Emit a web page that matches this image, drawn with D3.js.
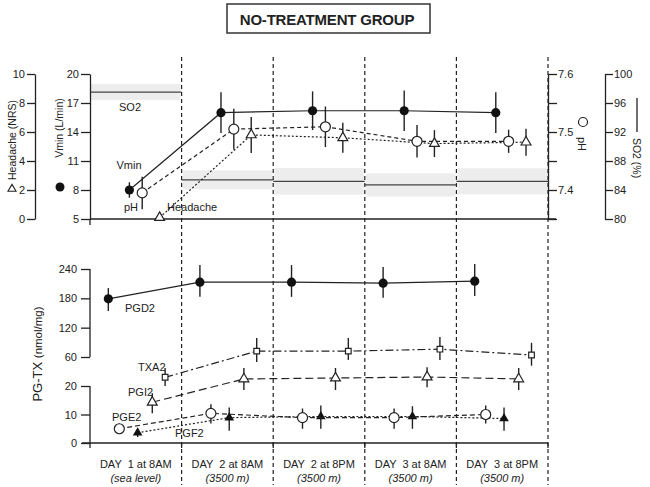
<!DOCTYPE html>
<html>
<head>
<meta charset="utf-8">
<script src="https://cdn.jsdelivr.net/npm/d3@7.9.0/dist/d3.min.js"></script>
<style>
  body { margin: 0; background: #fff; }
  svg text { font-family: "Liberation Sans", Arial, sans-serif; fill: #222; }
</style>
</head>
<body>
<svg id="chart" width="650" height="487"></svg>
<script>
// ====================
// Data
// ====================
const days = ["DAY  1 at 8AM", "DAY  2 at 8AM", "DAY  2 at 8PM", "DAY  3 at 8AM", "DAY  3 at 8PM"];
const altitudes = ["(sea level)", "(3500 m)", "(3500 m)", "(3500 m)", "(3500 m)"];

// top panel
const vmin = [8.0, 16.0, 16.2, 16.2, 16.0];
const vminSd = [0.8, 2.1, 2.0, 2.1, 2.1];
const ph = [7.395, 7.505, 7.509, 7.484, 7.484];
const phSd = [0.028, 0.035, 0.035, 0.028, 0.02];
const headache = [0.1, 5.8, 5.6, 5.2, 5.3];
const headacheSd = [0, 1.24, 1.03, 0.93, 0.93];
const so2 = [97.5, 85.4, 85.2, 84.7, 85.2];
const so2Sd = [1.1, 1.3, 1.85, 1.6, 1.8];

// bottom panel (value, bar low, bar high)
const pgd2 = [179, 213, 213, 211, 215];
const pgd2Lo = [154, 183, 183, 181, 185];
const pgd2Hi = [201, 248, 248, 244, 250];
const txa2 = [32, 72, 72, 76, 64];
const txa2Lo = [20, 53, 56, 56, 48];
const txa2Hi = [45, 99, 99, 101, 89];
const pgi2 = [14.3, 29.7, 31, 32.4, 29.7];
const pgi2Lo = [10.4, 18.6, 18.6, 19.6, 18.6];
const pgi2Hi = [17.5, 44.8, 44.8, 46, 44.8];
const pge2 = [5.0, 10.4, 8.9, 8.9, 10.0];
const pge2Lo = [3.2, 6.8, 5.0, 5.0, 6.8];
const pge2Hi = [6.8, 13.6, 12.1, 12.1, 13.2];
const pgf2 = [3.6, 8.9, 9.3, 9.3, 8.6];
const pgf2Lo = [2.1, 4.3, 5.0, 5.0, 4.3];
const pgf2Hi = [5.0, 12.5, 13.2, 12.9, 12.5];

const headacheTicks = [0, 2, 4, 6, 8, 10];
const vminTicks = [5, 8, 11, 14, 17, 20];
const phTicks = [7.35, 7.4, 7.45, 7.5, 7.55, 7.6];
const so2Ticks = [80, 84, 88, 92, 96, 100];
const pgTicks = [0, 10, 20, 60, 120, 180, 240];

// ====================
// Scales
// ====================
const ink = "#222";
const svg = d3.select("#chart");

const x = d3.scaleBand().domain(days).range([90, 548]);
const bw = x.bandwidth();
const px = (i, f) => x(days[i]) + bw * f;

const yHead = d3.scaleLinear().domain([0, 10]).range([219, 74]);
const yVmin = d3.scaleLinear().domain([5, 20]).range([219, 74]);
const yPh = d3.scaleLinear().domain([7.35, 7.6]).range([219, 74]);
const ySo2 = d3.scaleLinear().domain([80, 100]).range([219, 74]);
// broken axis: 0-20 and 60-240, the 20-60 gap squeezed
const yPg = d3.scaleLinear().domain([0, 20, 60, 240]).range([443, 386, 357, 269]);

// ====================
// Title
// ====================
svg.append("rect")
  .attr("x", 227).attr("y", 4).attr("width", 203).attr("height", 29)
  .attr("fill", "none").attr("stroke", "#333").attr("stroke-width", 1.5);
svg.append("text")
  .attr("x", 327).attr("y", 24.5).attr("text-anchor", "middle")
  .style("font-size", "15px").style("font-weight", "bold").style("letter-spacing", "-0.2px")
  .text("NO-TREATMENT GROUP");

// ====================
// SO2 grey bands + lines (drawn first, behind everything)
// ====================
days.forEach((d, i) => {
  svg.append("rect")
    .attr("x", x(d) + 1).attr("width", bw - 2)
    .attr("y", ySo2(so2[i] + so2Sd[i]))
    .attr("height", ySo2(so2[i] - so2Sd[i]) - ySo2(so2[i] + so2Sd[i]))
    .attr("fill", "#ededed");
  svg.append("line")
    .attr("x1", x(d)).attr("x2", x(d) + bw)
    .attr("y1", ySo2(so2[i])).attr("y2", ySo2(so2[i]))
    .attr("stroke", "#444").attr("stroke-width", 1.3);
});

// ====================
// Dashed day dividers
// ====================
const dividers = days.slice(1).map(d => x(d)).concat([x.range()[1]]);
svg.selectAll("line.divider")
  .data(dividers)
  .join("line")
  .attr("class", "divider")
  .attr("x1", d => d).attr("x2", d => d)
  .attr("y1", 57).attr("y2", 485)
  .attr("stroke", ink).attr("stroke-width", 1.2)
  .attr("stroke-dasharray", "4,3");

// ====================
// Axes
// ====================
function styleAxis(g, size) {
  g.selectAll("text").style("font-size", size || "11px").attr("fill", ink)
    .style("font-family", "'Liberation Sans', Arial, sans-serif");
  g.selectAll("line, path").attr("stroke", ink).attr("stroke-width", 1.3);
}

svg.append("g").attr("transform", "translate(35,0)")
  .call(d3.axisLeft(yHead).tickValues(headacheTicks).tickSize(8).tickSizeOuter(0).tickPadding(2))
  .call(styleAxis);

svg.append("g").attr("transform", "translate(90,0)")
  .call(d3.axisLeft(yVmin).tickValues(vminTicks).tickSize(9).tickSizeOuter(0).tickPadding(2))
  .call(styleAxis);
svg.append("line").attr("x1", 90).attr("x2", 90).attr("y1", 219).attr("y2", 225)
  .attr("stroke", ink).attr("stroke-width", 1.3);

svg.append("g").attr("transform", "translate(548,0)")
  .call(d3.axisRight(yPh).tickValues(phTicks).tickSize(9).tickSizeOuter(0).tickPadding(1)
    .tickFormat(d => [7.4, 7.5, 7.6].includes(d) ? d3.format(".1f")(d) : ""))
  .call(styleAxis);

svg.append("g").attr("transform", "translate(605,0)")
  .call(d3.axisRight(ySo2).tickValues(so2Ticks).tickSize(8).tickSizeOuter(0).tickPadding(1))
  .call(styleAxis);

// top baseline
svg.append("line").attr("x1", 90).attr("x2", 556).attr("y1", 219).attr("y2", 219)
  .attr("stroke", ink).attr("stroke-width", 1.3);

// bottom broken axis
const pgAxis = svg.append("g").attr("transform", "translate(90,0)")
  .call(d3.axisLeft(yPg).tickValues(pgTicks).tickSize(9).tickPadding(4))
  .call(styleAxis);
pgAxis.select(".domain").remove();
[[0, 20], [60, 240]].forEach(([a, b]) => {
  svg.append("line").attr("x1", 90).attr("x2", 90).attr("y1", yPg(a)).attr("y2", yPg(b))
    .attr("stroke", ink).attr("stroke-width", 1.3);
});

// bottom baseline with small ticks at the day edges
svg.append("line").attr("x1", 82).attr("x2", 548).attr("y1", yPg(0)).attr("y2", yPg(0))
  .attr("stroke", ink).attr("stroke-width", 1.3);
svg.selectAll("line.xtick")
  .data([x.range()[0]].concat(dividers))
  .join("line")
  .attr("class", "xtick")
  .attr("x1", d => d).attr("x2", d => d)
  .attr("y1", yPg(0)).attr("y2", yPg(0) + 5)
  .attr("stroke", ink).attr("stroke-width", 1.3);

// x labels
svg.selectAll("text.day")
  .data(days)
  .join("text")
  .attr("class", "day")
  .attr("x", d => x(d) + bw / 2).attr("y", 468)
  .attr("text-anchor", "middle").style("font-size", "11px").style("white-space", "pre")
  .text(d => d);
svg.selectAll("text.alt")
  .data(altitudes)
  .join("text")
  .attr("class", "alt")
  .attr("x", (d, i) => x(days[i]) + bw / 2).attr("y", 482)
  .attr("text-anchor", "middle").style("font-size", "11px").style("font-style", "italic")
  .text(d => d);

// ====================
// Axis titles
// ====================
function vText(x0, y0, angle, txt, size) {
  return svg.append("text")
    .attr("transform", `translate(${x0},${y0}) rotate(${angle})`)
    .attr("text-anchor", "middle").attr("dy", "0.35em")
    .style("font-size", size).text(txt);
}
vText(12, 140, -90, "Headache (NRS)", "10.5px");
svg.append("path").attr("d", d3.symbol(d3.symbolTriangle, 28)())
  .attr("transform", "translate(12,189)")
  .attr("fill", "#fff").attr("stroke", ink).attr("stroke-width", 1.1);

vText(59, 128, -90, "Vmin (L/min)", "10.5px");
svg.append("circle").attr("cx", 60).attr("cy", 187).attr("r", 4.5).attr("fill", "#111");

svg.append("circle").attr("cx", 583).attr("cy", 122).attr("r", 4.5)
  .attr("fill", "#fff").attr("stroke", ink).attr("stroke-width", 1.2);
vText(582, 144, 90, "pH", "11px");

svg.append("line").attr("x1", 637).attr("x2", 637).attr("y1", 98).attr("y2", 132)
  .attr("stroke", ink).attr("stroke-width", 1.3);
vText(637, 158, 90, "SO2 (%)", "10.5px");

const pgTitle = svg.append("text")
  .attr("transform", "translate(36,354) rotate(-90)")
  .attr("text-anchor", "middle").attr("dy", "0.35em");
pgTitle.append("tspan").style("font-size", "13px").text("PG-TX ");
pgTitle.append("tspan").style("font-size", "11.5px").text(" (nmol/mg)");

// ====================
// Series drawing
// ====================
const markers = {
  filledCircle: g => g.append("circle").attr("r", 4.6).attr("fill", "#111"),
  openCircle: g => g.append("circle").attr("r", 5).attr("fill", "#fff").attr("stroke", ink).attr("stroke-width", 1.2),
  openTriangle: g => g.append("path").attr("d", d3.symbol(d3.symbolTriangle, 42)()).attr("fill", "#fff").attr("stroke", ink).attr("stroke-width", 1.2),
  filledTriangle: g => g.append("path").attr("d", d3.symbol(d3.symbolTriangle, 40)()).attr("fill", "#111"),
  openSquare: g => g.append("path").attr("d", d3.symbol(d3.symbolSquare, 32)()).attr("fill", "#fff").attr("stroke", ink).attr("stroke-width", 1.2)
};

function drawSeries(s) {
  const pts = s.values.map((v, i) => ({
    x: px(i, s.offset),
    y: s.y(v),
    lo: s.y(s.lo ? s.lo[i] : v - s.sd[i]),
    hi: s.y(s.hi ? s.hi[i] : v + s.sd[i])
  }));
  svg.append("path")
    .attr("d", d3.line().x(d => d.x).y(d => d.y)(pts))
    .attr("fill", "none").attr("stroke", ink).attr("stroke-width", 1.2)
    .attr("stroke-dasharray", s.dash || null);
  svg.selectAll(null)
    .data(pts)
    .join("line")
    .attr("x1", d => d.x).attr("x2", d => d.x)
    .attr("y1", d => d.lo).attr("y2", d => d.hi)
    .attr("stroke", ink).attr("stroke-width", 1.4);
  pts.forEach(p => {
    const g = svg.append("g").attr("transform", `translate(${p.x},${p.y})`);
    markers[s.marker](g);
  });
}

// top panel
drawSeries({ values: headache, sd: headacheSd, y: yHead, offset: 0.76, dash: "2,2", marker: "openTriangle" });
drawSeries({ values: ph, sd: phSd, y: yPh, offset: 0.57, dash: "4,3", marker: "openCircle" });
drawSeries({ values: vmin, sd: vminSd, y: yVmin, offset: 0.43, marker: "filledCircle" });

// bottom panel
drawSeries({ values: pgf2, lo: pgf2Lo, hi: pgf2Hi, y: yPg, offset: 0.52, dash: "2,2", marker: "filledTriangle" });
drawSeries({ values: pge2, lo: pge2Lo, hi: pge2Hi, y: yPg, offset: 0.32, dash: "5,3", marker: "openCircle" });
drawSeries({ values: pgi2, lo: pgi2Lo, hi: pgi2Hi, y: yPg, offset: 0.68, dash: "8,4", marker: "openTriangle" });
drawSeries({ values: txa2, lo: txa2Lo, hi: txa2Hi, y: yPg, offset: 0.82, dash: "8,3,2,3", marker: "openSquare" });
drawSeries({ values: pgd2, lo: pgd2Lo, hi: pgd2Hi, y: yPg, offset: 0.2, marker: "filledCircle" });

// ====================
// In-plot labels
// ====================
const labels = [
  ["SO2", 130, 111, "middle"],
  ["Vmin", 129, 169, "middle"],
  ["pH", 131, 211, "middle"],
  ["Headache", 167, 211, "start"],
  ["PGD2", 125, 312, "start"],
  ["TXA2", 138, 371, "start"],
  ["PGI2", 128, 396, "start"],
  ["PGE2", 112, 421, "start"],
  ["PGF2", 175, 437, "start"]
];
svg.selectAll("text.lbl")
  .data(labels)
  .join("text")
  .attr("class", "lbl")
  .attr("x", d => d[1]).attr("y", d => d[2])
  .attr("text-anchor", d => d[3])
  .style("font-size", "11px")
  .text(d => d[0]);
</script>
</body>
</html>
